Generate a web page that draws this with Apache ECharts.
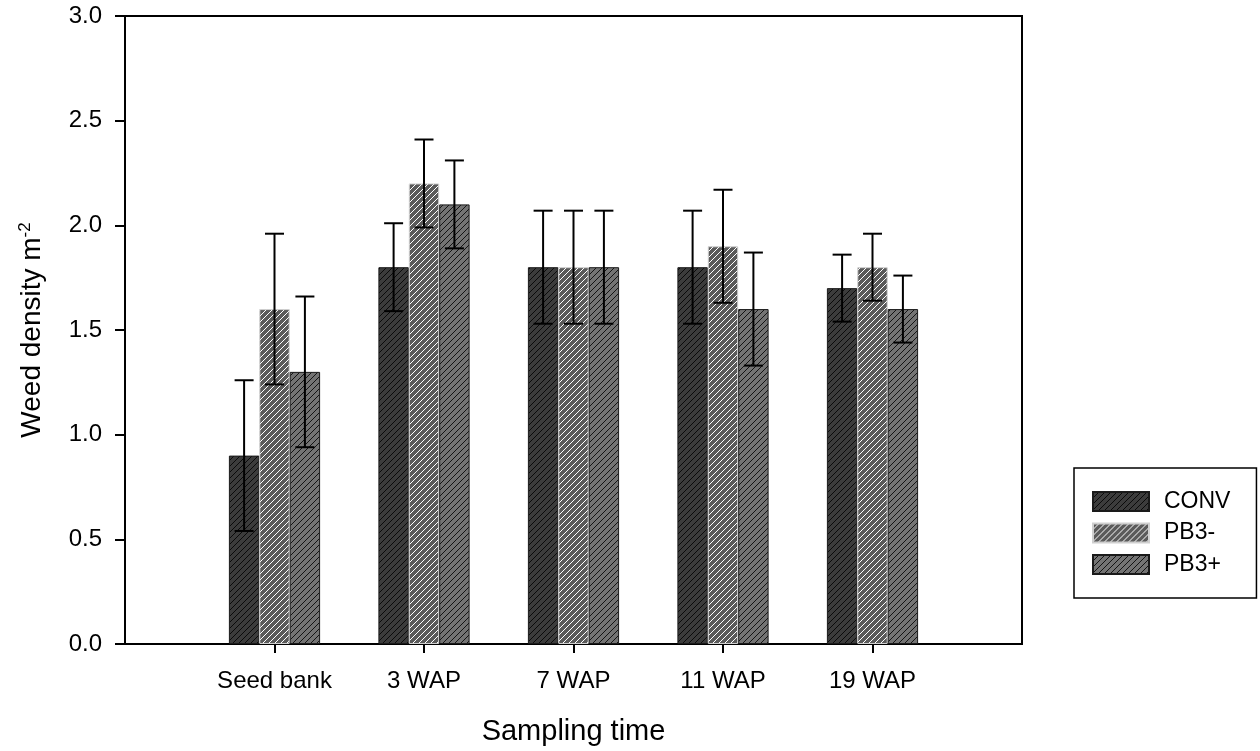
<!DOCTYPE html>
<html>
<head>
<meta charset="utf-8">
<script src="https://cdn.jsdelivr.net/npm/echarts@6/dist/echarts.min.js"></script>
<style>
  html, body { margin: 0; padding: 0; background: #fff; }
  #chart { width: 1260px; height: 751px; }
</style>
</head>
<body>
<div id="chart"></div>
<script>
// data
var categories = ['Seed bank', '3 WAP', '7 WAP', '11 WAP', '19 WAP'];
var seriesNames = ['CONV', 'PB3-', 'PB3+'];
var conv = [0.9, 1.8, 1.8, 1.8, 1.7];
var pb3minus = [1.6, 2.2, 1.8, 1.9, 1.8];
var pb3plus = [1.3, 2.1, 1.8, 1.6, 1.6];
var convErr = [0.36, 0.21, 0.27, 0.27, 0.16];
var pb3minusErr = [0.36, 0.21, 0.27, 0.27, 0.16];
var pb3plusErr = [0.36, 0.21, 0.27, 0.27, 0.16];
var yTicks = [0, 0.5, 1.0, 1.5, 2.0, 2.5, 3.0];

var FONT = 'Liberation Sans, Arial, sans-serif';
var GAP = 0.39; // barCategoryGap

// empty slots at both ends so the groups sit like the original
var axisData = [''].concat(categories).concat([' ']);

function hatch(fill, stroke, p, lw) {
  var c = document.createElement('canvas');
  c.width = p; c.height = p;
  var ctx = c.getContext('2d');
  ctx.fillStyle = fill;
  ctx.fillRect(0, 0, p, p);
  ctx.strokeStyle = stroke;
  ctx.lineWidth = lw;
  ctx.beginPath();
  ctx.moveTo(-1, 1); ctx.lineTo(1, -1);
  ctx.moveTo(0, p); ctx.lineTo(p, 0);
  ctx.moveTo(p - 1, p + 1); ctx.lineTo(p + 1, p - 1);
  ctx.stroke();
  return { image: c, repeat: 'repeat' };
}

var fills = [
  hatch('#3c3c3c', '#0a0a0a', 6, 1),
  hatch('#5a5a5a', '#ffffff', 6, 1),
  hatch('#747474', '#141414', 6, 1)
];
var borders = ['#1a1a1a', '#cfcfcf', '#1a1a1a'];
var values = [conv, pb3minus, pb3plus];
var errs = [convErr, pb3minusErr, pb3plusErr];

var series = [];
for (var s = 0; s < 3; s++) {
  series.push({
    name: seriesNames[s],
    type: 'bar',
    barGap: '0%',
    barCategoryGap: (GAP * 100) + '%',
    itemStyle: { color: fills[s], borderColor: borders[s], borderWidth: 1 },
    emphasis: { disabled: true },
    data: categories.map(function (c, i) { return [c, values[s][i]]; })
  });
}

// error bars
for (var k = 0; k < 3; k++) {
  (function (k) {
    series.push({
      type: 'custom',
      name: seriesNames[k] + ' err',
      z: 5,
      silent: true,
      renderItem: function (params, api) {
        var cat = api.value(0);
        var lo = api.coord([cat, api.value(1)]);
        var hi = api.coord([cat, api.value(2)]);
        var band = api.size([1, 0])[0];
        var bw = band * (1 - GAP) / 3;
        var x = lo[0] + (k - 1) * bw;
        var cap = 9.5;
        var st = { stroke: '#000', lineWidth: 2 };
        return {
          type: 'group',
          children: [
            { type: 'line', shape: { x1: x, y1: lo[1], x2: x, y2: hi[1] }, style: st },
            { type: 'line', shape: { x1: x - cap, y1: hi[1], x2: x + cap, y2: hi[1] }, style: st },
            { type: 'line', shape: { x1: x - cap, y1: lo[1], x2: x + cap, y2: lo[1] }, style: st }
          ]
        };
      },
      data: categories.map(function (c, i) {
        return [c, values[k][i] - errs[k][i], values[k][i] + errs[k][i]];
      })
    });
  })(k);
}

var option = {
  animation: false,
  backgroundColor: '#fff',
  textStyle: { fontFamily: FONT, color: '#000' },
  grid: {
    left: 125, top: 16, right: 238, bottom: 107,
    show: true, borderColor: '#000', borderWidth: 2,
    containLabel: false
  },
  legend: {
    data: seriesNames,
    orient: 'vertical',
    left: 1074,
    top: 468,
    padding: [22, 26, 22, 18],
    borderColor: '#000',
    borderWidth: 1.5,
    itemWidth: 56,
    itemHeight: 19,
    itemGap: 8.5,
    icon: 'rect',
    selectedMode: false,
    textStyle: { fontFamily: FONT, fontSize: 23, color: '#000', padding: [0, 0, 0, 10] }
  },
  xAxis: {
    type: 'category',
    data: axisData,
    boundaryGap: false,
    name: 'Sampling time',
    nameLocation: 'middle',
    nameGap: 73,
    nameTextStyle: { fontFamily: FONT, fontSize: 29, color: '#000' },
    axisLine: { lineStyle: { color: '#000', width: 2 } },
    axisTick: {
      length: 9,
      lineStyle: { color: '#000', width: 2 },
      interval: function (i, v) { return v.trim() !== ''; }
    },
    axisLabel: { interval: 0, fontFamily: FONT, fontSize: 24, color: '#000', margin: 25 },
    splitLine: { show: false }
  },
  yAxis: {
    type: 'value',
    min: yTicks[0],
    max: yTicks[yTicks.length - 1],
    interval: 0.5,
    name: 'Weed density m{sup|-2}',
    nameLocation: 'middle',
    nameRotate: 90,
    nameGap: 77,
    nameTextStyle: {
      fontFamily: FONT, fontSize: 28, color: '#000',
      rich: { sup: { fontFamily: FONT, fontSize: 17, color: '#000', verticalAlign: 'top', padding: [0, 0, 14, 0] } }
    },
    axisLine: { show: true, lineStyle: { color: '#000', width: 2 } },
    axisTick: { show: true, length: 10, lineStyle: { color: '#000', width: 2 } },
    axisLabel: {
      fontFamily: FONT, fontSize: 24, color: '#000', margin: 23,
      formatter: function (v) { return v.toFixed(1); }
    },
    splitLine: { show: false }
  },
  series: series
};

var chart = echarts.init(document.getElementById('chart'), null, { renderer: 'canvas' });
chart.setOption(option);
</script>
</body>
</html>
